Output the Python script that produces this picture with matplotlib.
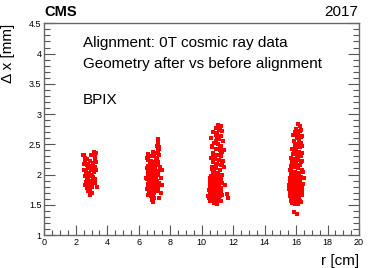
import matplotlib.pyplot as plt
from matplotlib.ticker import MultipleLocator, FormatStrFormatter

plt.rcParams['font.family'] = ['Liberation Sans', 'DejaVu Sans']

# points, one pair of lists per barrel layer
r_l1 = [2.45, 2.55, 2.6, 3.15, 3.3, 3.25, 2.95, 2.5, 2.6, 2.7, 2.8, 2.9, 3.0, 3.1, 3.2, 3.3,
        2.55, 2.65, 2.75, 2.85, 2.95, 3.05, 3.15, 3.3, 2.6, 2.7, 2.8, 2.9, 3.0, 3.1, 3.2,
        2.65, 2.75, 2.85, 2.95, 3.05, 3.25, 2.7, 2.9, 3.0, 3.35, 2.8, 3.0, 2.9, 2.6, 3.2, 2.7,
        2.75, 2.85, 3.05, 2.9, 2.8]
dx_l1 = [2.33, 2.32, 2.28, 2.37, 2.36, 2.30, 2.32, 2.18, 2.20, 2.15, 2.17, 2.22, 2.14, 2.19, 2.12, 2.20,
         2.08, 2.05, 2.10, 2.03, 2.07, 2.00, 2.05, 2.08, 1.98, 1.95, 1.92, 1.97, 1.90, 1.96, 1.93,
         1.88, 1.85, 1.82, 1.87, 1.84, 1.86, 1.78, 1.76, 1.80, 1.80, 1.72, 1.70, 1.66, 1.82, 2.25, 2.25,
         2.02, 1.99, 2.11, 1.89, 2.12]

r_l2 = [7.2, 7.25, 7.15, 7.3, 7.2, 6.9, 6.6, 7.1, 7.3, 6.75, 7.0, 6.5,
        6.6, 6.8, 6.95, 7.1, 7.25, 6.7, 6.9, 7.05, 7.2, 7.35,
        6.5, 6.65, 6.8, 6.95, 7.1, 7.25, 7.5, 6.6, 6.75, 6.9, 7.05, 7.2, 7.4,
        6.55, 6.7, 6.85, 7.0, 7.15, 7.3, 6.6, 6.75, 6.9, 7.05, 7.2, 7.45,
        6.5, 6.7, 6.85, 7.0, 7.25, 6.6, 6.8, 6.95, 7.4, 6.85, 6.9, 6.45, 7.3,
        6.7, 6.8, 6.9, 7.0, 6.65, 6.75, 6.85, 6.95, 7.1, 6.6, 6.7, 6.8, 7.15, 7.22,
        6.62, 6.72, 6.82, 6.92, 7.02, 6.58, 6.68, 6.78, 6.88, 6.98, 7.12, 6.63, 6.73,
        6.83, 6.93, 7.08, 6.66, 6.76, 6.86, 6.96, 7.18, 7.28]
dx_l2 = [2.58, 2.52, 2.47, 2.45, 2.40, 2.38, 2.34, 2.35, 2.33, 2.30, 2.30, 2.27,
         2.24, 2.22, 2.20, 2.25, 2.20, 2.17, 2.15, 2.13, 2.16, 2.12,
         2.10, 2.08, 2.05, 2.07, 2.03, 2.06, 2.08, 2.00, 1.98, 2.00, 1.96, 1.99, 1.95,
         1.93, 1.90, 1.92, 1.88, 1.90, 1.86, 1.84, 1.82, 1.80, 1.83, 1.79, 1.82,
         1.76, 1.73, 1.75, 1.70, 1.72, 1.66, 1.65, 1.62, 1.70, 1.58, 1.54, 1.95, 1.62,
         2.02, 1.96, 1.86, 1.78, 1.88, 2.10, 1.70, 2.12, 1.94, 2.04, 1.80, 1.92, 2.28, 2.36,
         2.14, 2.09, 2.01, 1.94, 1.87, 1.81, 1.77, 1.71, 1.68, 1.75, 2.18, 2.04, 1.91,
         1.84, 1.78, 2.00, 1.69, 1.93, 2.07, 1.85, 2.23, 2.42]

r_l3 = [11.05, 11.2, 11.15, 10.9, 11.3, 11.0, 10.7, 11.25, 10.95, 11.1, 10.6, 11.35,
        10.8, 11.05, 11.2, 10.65, 10.9, 11.15, 11.3, 10.75, 11.0, 11.25, 10.6, 10.85,
        11.1, 11.35, 10.7, 10.95, 11.2, 10.65, 10.9, 11.15, 11.4, 10.8, 11.05, 11.3,
        10.6, 10.85, 11.1, 10.7, 10.95, 11.2, 10.55, 10.8, 11.05, 11.3, 10.6, 10.85,
        11.1, 11.5, 10.5, 10.75, 11.0, 11.25, 10.45, 10.7, 10.95, 11.2, 10.5, 10.65,
        10.85, 11.05, 11.3, 10.4, 10.6, 10.8, 11.0, 11.15, 10.45, 10.7, 10.9, 11.1,
        11.6, 10.5, 10.75, 10.95, 11.2, 10.55, 10.8, 11.0, 10.6, 10.85, 11.05, 10.7,
        10.9, 10.75, 10.85, 10.95, 11.65, 11.4,
        10.62, 10.78, 10.92, 11.08, 10.55, 10.68, 10.82, 10.98, 11.12, 10.48, 10.58,
        10.72, 10.88, 11.02, 11.18, 10.52, 10.66, 10.8, 10.96, 10.58, 10.74, 10.88,
        11.08, 11.22, 10.64, 10.94, 11.1, 11.02, 10.9, 11.18, 11.28, 10.76, 10.68]
dx_l3 = [2.82, 2.80, 2.75, 2.77, 2.72, 2.68, 2.70, 2.64, 2.62, 2.58, 2.60, 2.55,
         2.52, 2.50, 2.47, 2.45, 2.42, 2.40, 2.38, 2.35, 2.33, 2.30, 2.28, 2.26,
         2.24, 2.22, 2.20, 2.18, 2.15, 2.12, 2.10, 2.08, 2.12, 2.05, 2.03, 2.00,
         1.98, 1.96, 1.97, 1.94, 1.92, 1.93, 1.90, 1.88, 1.89, 1.86, 1.85, 1.84,
         1.82, 1.82, 1.80, 1.79, 1.78, 1.77, 1.75, 1.74, 1.73, 1.72, 1.70, 1.69,
         1.68, 1.67, 1.66, 1.65, 1.64, 1.63, 1.62, 1.64, 1.61, 1.60, 1.58, 1.59,
         1.68, 1.57, 1.56, 1.55, 1.56, 1.72, 1.53, 1.51, 1.90, 1.76, 1.95, 2.30,
         2.55, 2.02, 1.70, 1.85, 1.62, 2.40,
         1.71, 1.76, 1.81, 1.66, 1.86, 1.92, 1.98, 1.74, 1.70, 1.62, 1.80, 1.84,
         1.67, 1.60, 1.78, 1.95, 1.88, 1.64, 1.83, 1.58, 2.06, 2.14, 2.24, 2.36,
         2.48, 2.66, 2.74, 2.58, 2.32, 2.44, 2.18, 1.91, 2.09]

r_l4 = [16.1, 16.25, 16.0, 16.3, 15.95, 16.15, 15.8, 16.35, 16.05, 16.2, 15.85, 16.3,
        15.9, 16.1, 16.25, 15.75, 16.0, 16.2, 16.4, 15.8, 16.05, 16.3, 15.7, 15.95,
        16.15, 16.4, 15.75, 16.0, 16.25, 15.65, 15.9, 16.1, 16.35, 15.7, 15.95, 16.2,
        16.45, 15.65, 15.85, 16.05, 16.3, 15.6, 15.8, 16.0, 16.25, 16.5, 15.6, 15.8,
        16.0, 16.2, 16.4, 15.55, 15.75, 15.95, 16.15, 16.35, 15.55, 15.75, 15.95, 16.15,
        16.35, 15.6, 15.8, 16.0, 16.2, 16.4, 15.6, 15.8, 16.0, 16.2, 15.65, 15.85,
        16.05, 16.25, 15.7, 15.9, 16.1, 16.3, 15.75, 15.95, 16.15, 15.85, 16.05, 16.0,
        15.9, 16.1, 16.05, 16.15, 15.7, 16.45,
        15.68, 15.82, 15.96, 16.12, 15.62, 15.74, 15.88, 16.02, 16.18, 15.66, 15.78,
        15.92, 16.08, 16.22, 15.72, 15.86, 15.98, 16.14, 15.64, 15.76, 15.9, 16.06,
        16.28, 16.12, 15.94, 16.18, 15.84, 16.04, 16.22, 16.32, 15.88, 16.08, 16.38]
dx_l4 = [2.83, 2.80, 2.76, 2.74, 2.70, 2.68, 2.66, 2.64, 2.60, 2.58, 2.55, 2.52,
         2.50, 2.48, 2.45, 2.43, 2.40, 2.38, 2.36, 2.34, 2.32, 2.30, 2.28, 2.26,
         2.24, 2.22, 2.20, 2.18, 2.16, 2.14, 2.12, 2.10, 2.08, 2.06, 2.04, 2.02,
         2.05, 2.00, 1.98, 1.97, 1.96, 1.94, 1.93, 1.92, 1.91, 1.95, 1.88, 1.87,
         1.86, 1.85, 1.84, 1.82, 1.81, 1.80, 1.79, 1.78, 1.76, 1.75, 1.74, 1.73,
         1.72, 1.70, 1.69, 1.68, 1.67, 1.66, 1.64, 1.63, 1.62, 1.61, 1.60, 1.59,
         1.58, 1.57, 1.56, 1.55, 1.54, 1.55, 1.53, 1.52, 1.52, 1.38, 1.34, 1.90,
         1.75, 1.65, 2.35, 2.60, 2.10, 1.85,
         1.71, 1.76, 1.66, 1.81, 1.86, 1.91, 1.62, 1.73, 1.97, 1.58, 1.83, 1.69,
         1.78, 1.88, 2.02, 1.64, 1.57, 1.93, 2.08, 2.14, 1.99, 1.72, 2.20, 2.28,
         2.46, 2.54, 2.38, 2.66, 2.72, 2.62, 2.24, 1.60, 2.48]

layers = [(r_l1, dx_l1), (r_l2, dx_l2), (r_l3, dx_l3), (r_l4, dx_l4)]

fig = plt.figure(figsize=(3.74, 2.68), dpi=100)
ax = fig.add_axes([0.1185, 0.123, 0.8415, 0.79])

for r, dx in layers:
    ax.plot(r, dx, 's', color='red', markersize=2.4, markeredgewidth=0)

ax.set_xlim(0, 20)
ax.set_ylim(1, 4.5)
ax.xaxis.set_major_locator(MultipleLocator(2))
ax.xaxis.set_minor_locator(MultipleLocator(0.5))
ax.yaxis.set_major_locator(MultipleLocator(0.5))
ax.yaxis.set_minor_locator(MultipleLocator(0.1))
ax.yaxis.set_major_formatter(FormatStrFormatter('%g'))
ax.tick_params(which='both', direction='in', top=False, right=True,
               labelsize=6.5, color='#555555', width=0.8, pad=2)
ax.tick_params(which='major', axis='y', length=8)
ax.tick_params(which='minor', axis='y', length=4)
ax.tick_params(which='major', axis='x', length=7)
ax.tick_params(which='minor', axis='x', length=3.5)
for s in ax.spines.values():
    s.set_color('#666666')
    s.set_linewidth(1.0)

ax.set_xlabel('r [cm]', fontsize=11, loc='right', labelpad=5)
ax.set_ylabel('Δ x [mm]', fontsize=11, loc='top', labelpad=10)

fig.text(0.118, 0.94, 'CMS', fontsize=10.5, fontweight='bold')
fig.text(0.958, 0.94, '2017', fontsize=11, ha='right')
ax.text(0.123, 0.887, 'Alignment: 0T cosmic ray data', transform=ax.transAxes, fontsize=11)
ax.text(0.123, 0.79, 'Geometry after vs before alignment', transform=ax.transAxes, fontsize=11)
ax.text(0.123, 0.62, 'BPIX', transform=ax.transAxes, fontsize=11)

fig.savefig('out.png', dpi=100)
